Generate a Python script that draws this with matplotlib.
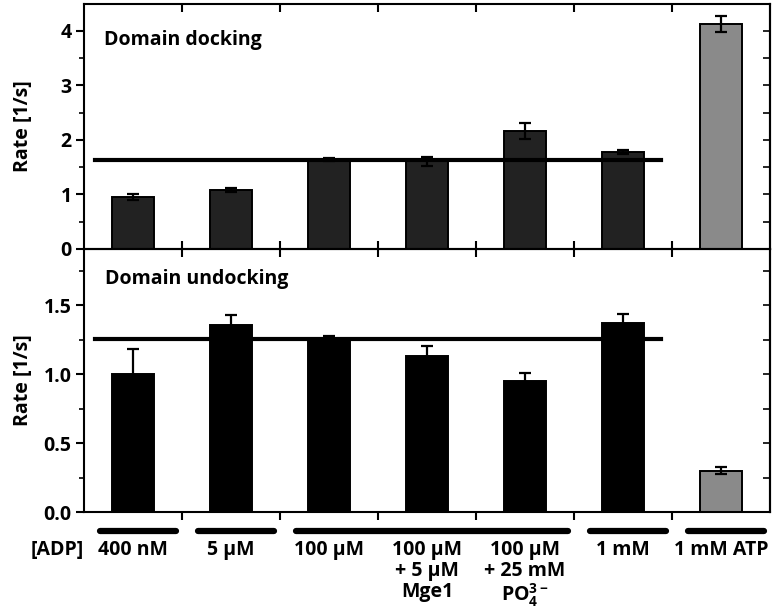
import matplotlib
matplotlib.use("Agg")
import matplotlib.pyplot as plt
import matplotlib.transforms as mtransforms
from matplotlib.ticker import MultipleLocator, FixedLocator

# conditions (one bar each)
conditions = ["400 nM", "5 µM", "100 µM", "100 µM\n+ 5 µM\nMge1",
              "100 µM\n+ 25 mM\nPO$_4^{3-}$", "1 mM", "1 mM ATP"]

dock_rate = [0.95, 1.08, 1.64, 1.61, 2.16, 1.78, 4.12]
dock_err = [0.05, 0.04, 0.03, 0.08, 0.15, 0.04, 0.15]
dock_mean = 1.64

undock_rate = [1.00, 1.355, 1.253, 1.13, 0.95, 1.372, 0.298]
undock_err = [0.18, 0.075, 0.025, 0.07, 0.06, 0.06, 0.025]
undock_mean = 1.253

# grouping bars under the x axis: (first bar, last bar)
groups = [(0, 0), (1, 1), (2, 4), (5, 5), (6, 6)]

FS = 14
plt.rcParams["font.family"] = ["Open Sans", "DejaVu Sans"]
plt.rcParams["font.weight"] = "bold"
plt.rcParams["axes.labelweight"] = "bold"
plt.rcParams["font.size"] = FS
plt.rcParams["mathtext.fontset"] = "custom"
plt.rcParams["mathtext.rm"] = "Open Sans:bold"
plt.rcParams["mathtext.it"] = "Open Sans:bold"

fig = plt.figure(figsize=(7.81, 6.16), dpi=100)
ax1 = fig.add_axes([0.1076, 0.5958, 0.8784, 0.3977])
ax2 = fig.add_axes([0.1076, 0.1688, 0.8784, 0.4270])

x = list(range(len(conditions)))
colors = ["#222222"] * 6 + ["#8a8a8a"]
colors2 = ["black"] * 6 + ["#8a8a8a"]

err_kw = dict(ecolor="black", elinewidth=1.6, capsize=4.5, capthick=1.6)
ax1.bar(x, dock_rate, width=0.42, color=colors, edgecolor="black",
        linewidth=1.4, yerr=dock_err, error_kw=err_kw)
ax2.bar(x, undock_rate, width=0.42, color=colors2, edgecolor="black",
        linewidth=1.4, yerr=undock_err, error_kw=err_kw)

ax1.plot([-0.39, 5.39], [dock_mean, dock_mean], color="black", lw=3, zorder=4)
ax2.plot([-0.39, 5.39], [undock_mean, undock_mean], color="black", lw=3, zorder=4)

ax1.set_ylim(0, 4.49)
ax2.set_ylim(0, 1.906)
ax1.yaxis.set_major_locator(FixedLocator([0, 1, 2, 3, 4]))
ax1.yaxis.set_minor_locator(MultipleLocator(0.5))
ax2.yaxis.set_major_locator(FixedLocator([0, 0.5, 1.0, 1.5]))
ax2.yaxis.set_minor_locator(MultipleLocator(0.25))
ax2.yaxis.set_major_formatter(lambda v, p: f"{v:.1f}")

for ax in (ax1, ax2):
    ax.set_xlim(-0.5, 6.5)
    ax.set_xticks([i + 0.5 for i in range(6)])
    ax.set_xticklabels([])
    for s in ax.spines.values():
        s.set_linewidth(1.5)
    ax.tick_params(axis="y", which="major", direction="out", length=6,
                   width=1.5, right=False, labelsize=FS, pad=3)
    ax.tick_params(axis="y", which="minor", direction="out", length=3.5,
                   width=1.2)
    ax.set_ylabel("Rate [1/s]", fontsize=FS)
    ax.yaxis.set_label_coords(-0.075, 0.5)
    # right side inner ticks at every minor step
    sec = ax.secondary_yaxis("right")
    sec.set_yticks([t for t in ax.yaxis.get_minorticklocs()] +
                   list(ax.get_yticks()))
    sec.set_yticklabels([])
    sec.tick_params(direction="in", length=5, width=1.2)
    sec.spines["right"].set_linewidth(1.5)

ax1.tick_params(axis="x", which="major", direction="in", length=6, width=1.5,
                top=True, bottom=True)
ax2.tick_params(axis="x", which="major", direction="out", length=6, width=1.5,
                bottom=True)
secx = ax2.secondary_xaxis("top")
secx.set_xticks([i + 0.5 for i in range(6)])
secx.set_xticklabels([])
secx.tick_params(direction="in", length=6, width=1.5)

ax1.text(0.029, 0.853, "Domain docking", transform=ax1.transAxes,
         va="center", ha="left", fontsize=FS)
ax2.text(0.030, 0.886, "Domain undocking", transform=ax2.transAxes,
         va="center", ha="left", fontsize=FS)

# condition labels and grouping bars below the lower panel
trans = mtransforms.blended_transform_factory(ax2.transData, ax2.transAxes)
for a, b in groups:
    left = a - 0.34
    right = b + 0.44
    ax2.plot([left, right], [-0.071, -0.071], color="black", lw=4.5,
             solid_capstyle="round", transform=trans, clip_on=False)
for i, lab in enumerate(conditions):
    ax2.text(i, -0.108, lab, transform=trans, ha="center", va="top",
             fontsize=FS, linespacing=1.04)
ax2.text(-0.50, -0.108, "[ADP]", transform=trans, ha="right", va="top",
         fontsize=FS)

fig.savefig("out.png", dpi=100)
